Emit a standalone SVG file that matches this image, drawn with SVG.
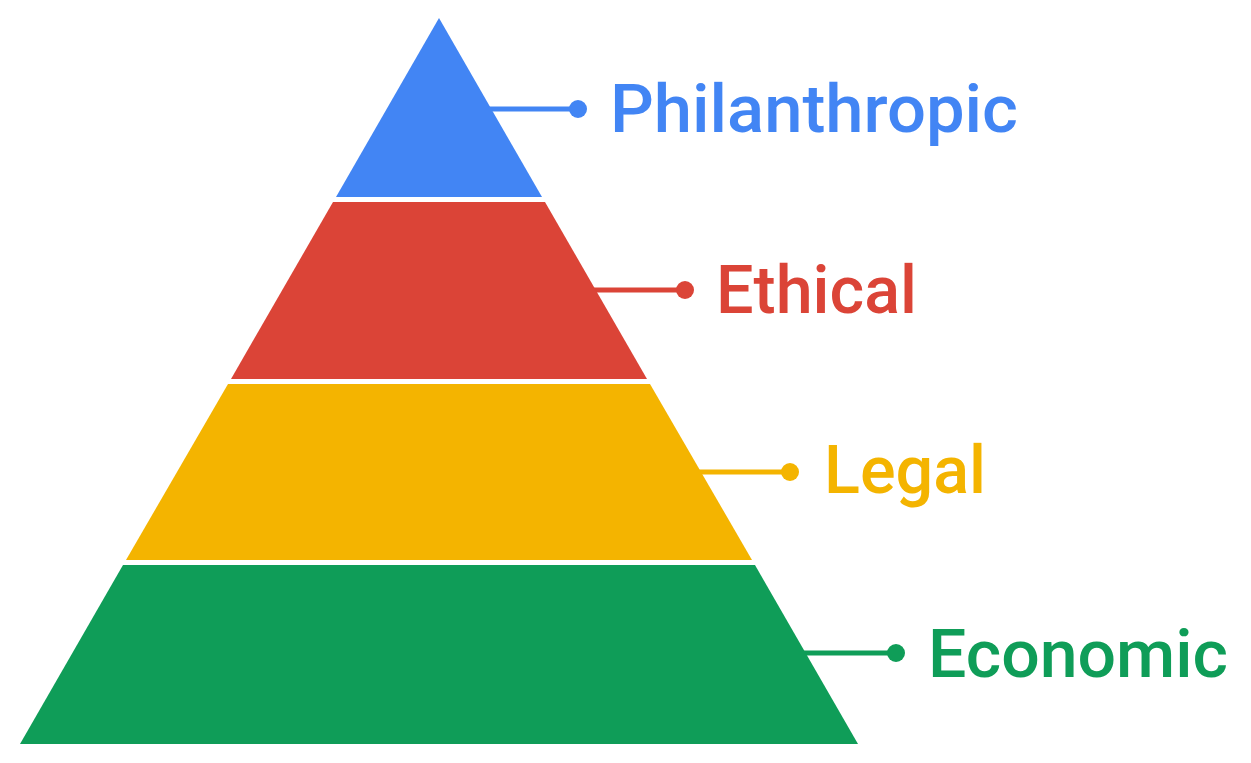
<svg xmlns="http://www.w3.org/2000/svg" width="1251" height="763" viewBox="0 0 1251 763">
<style>
.lbl{font-family:Roboto,"Open Sans","Liberation Sans",sans-serif;font-weight:500;font-size:66px}
.ln{stroke-width:5;fill:none}
.blue{fill:#4285F4}.red{fill:#DB4437}.yellow{fill:#F4B400}.green{fill:#0F9D58}
</style>
<rect width="1251" height="763" fill="#ffffff"/>
<g id="connectors">
<line class="ln" x1="488" y1="109" x2="578" y2="109" stroke="#4285F4"/>
<circle cx="578" cy="109" r="9" fill="#4285F4"/>
<line class="ln" x1="592" y1="290" x2="685" y2="290" stroke="#DB4437"/>
<circle cx="685" cy="290" r="9" fill="#DB4437"/>
<line class="ln" x1="698" y1="472" x2="790" y2="472" stroke="#F4B400"/>
<circle cx="790" cy="472" r="9" fill="#F4B400"/>
<line class="ln" x1="802" y1="653" x2="896" y2="653" stroke="#0F9D58"/>
<circle cx="896" cy="653" r="9" fill="#0F9D58"/>
</g>
<g id="philanthropic">
<polygon class="blue" points="439,18 542,197 336,197"/>
<text class="lbl blue" x="610" y="132" textLength="408" lengthAdjust="spacingAndGlyphs">Philanthropic</text>
</g>
<g id="ethical">
<polygon class="red" points="333,202 545,202 647,379 231,379"/>
<text class="lbl red" x="716" y="313" textLength="201" lengthAdjust="spacingAndGlyphs">Ethical</text>
</g>
<g id="legal">
<polygon class="yellow" points="228,384 650,384 752,560 126,560"/>
<text class="lbl yellow" x="824" y="493" textLength="162" lengthAdjust="spacingAndGlyphs">Legal</text>
</g>
<g id="economic">
<polygon class="green" points="123,565 755,565 858,744 20,744"/>
<text class="lbl green" x="928" y="677" textLength="300" lengthAdjust="spacingAndGlyphs">Economic</text>
</g>
</svg>
